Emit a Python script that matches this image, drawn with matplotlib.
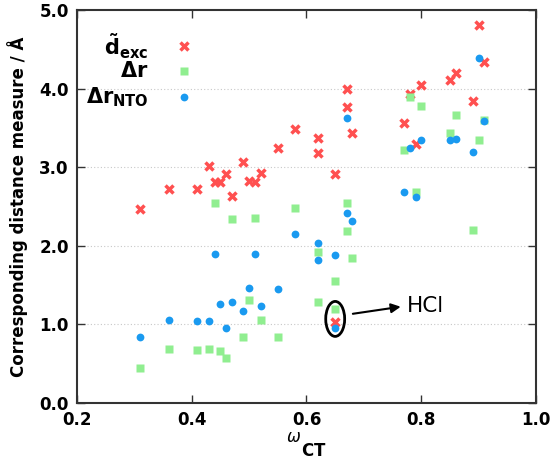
import numpy as np
import matplotlib
matplotlib.use("Agg")
import matplotlib.pyplot as plt
from matplotlib.patches import Ellipse

# omega_CT values shared by all three series
omega = [0.31, 0.36, 0.41, 0.43, 0.44, 0.45, 0.46, 0.47, 0.49, 0.50,
         0.51, 0.52, 0.55, 0.58, 0.62, 0.62, 0.65, 0.65, 0.67, 0.67,
         0.68, 0.77, 0.78, 0.79, 0.80, 0.85, 0.86, 0.89, 0.90, 0.91]
d_exc = [2.47, 2.72, 2.72, 3.02, 2.81, 2.81, 2.91, 2.64, 3.06, 2.83,
         2.81, 2.93, 3.25, 3.49, 3.37, 3.18, 2.91, 1.03, 3.99, 3.76,
         3.44, 3.56, 3.93, 3.30, 4.04, 4.11, 4.20, 3.84, 4.81, 4.34]
delta_r = [0.44, 0.69, 0.68, 0.69, 2.54, 0.66, 0.57, 2.34, 0.84, 1.31,
           2.35, 1.05, 0.84, 2.48, 1.92, 1.28, 1.55, 1.19, 2.54, 2.19,
           1.84, 3.22, 3.89, 2.69, 3.78, 3.43, 3.66, 2.20, 3.34, 3.60]
delta_r_nto = [0.84, 1.05, 1.04, 1.04, 1.90, 1.26, 0.96, 1.28, 1.17, 1.46,
               1.90, 1.23, 1.45, 2.15, 2.04, 1.82, 1.88, 0.95, 3.63, 2.42,
               2.32, 2.68, 3.25, 2.62, 3.35, 3.35, 3.36, 3.19, 4.39, 3.59]

red = "#ff5050"
green = "#90ee90"
blue = "#1a9af0"

x_style = dict(marker="x", color=red, ms=6, mew=2.5, ls="none")
sq_style = dict(marker="s", color=green, ms=5.6, mec="none", ls="none")
dot_style = dict(marker="o", color=blue, ms=5.6, mec="none", ls="none")

fig = plt.figure(figsize=(5.55, 4.65), dpi=100)
ax = fig.add_axes([0.1387, 0.1333, 0.8271, 0.8452])

ax.plot(omega, d_exc, **x_style)
ax.plot(omega, delta_r, **sq_style)
ax.plot(omega, delta_r_nto, **dot_style)

ax.set_xlim(0.2, 1.0)
ax.set_ylim(0.0, 5.0)
ax.set_xticks(np.arange(0.2, 1.01, 0.2))
ax.set_yticks(np.arange(0.0, 5.01, 1.0))
ax.set_xticklabels(["0.2", "0.4", "0.6", "0.8", "1.0"])
ax.set_yticklabels(["0.0", "1.0", "2.0", "3.0", "4.0", "5.0"])
for lab in ax.get_xticklabels() + ax.get_yticklabels():
    lab.set_fontweight("bold")
    lab.set_fontsize(12)
ax.tick_params(direction="in", top=True, right=True, length=6, width=1, color="#333333", pad=6)

for y in [1, 2, 3, 4]:
    ax.axhline(y, color="#c8c8c8", lw=0.8, ls=(0, (1, 2)), zorder=0)

for s in ax.spines.values():
    s.set_linewidth(1.5)
    s.set_color("#333333")

ax.set_ylabel("Corresponding distance measure / Å", fontsize=12, fontweight="bold", labelpad=8)
ax.set_xlabel(r"$^{\omega}\mathbf{_{CT}}$", fontsize=17, labelpad=2)

# legend drawn by hand, labels right aligned
tr = ax.transAxes
ax.text(0.155, 0.908, r"$\mathbf{\tilde{d}_{exc}}$", transform=tr, ha="right", va="center", fontsize=15)
ax.text(0.155, 0.844, r"$\mathbf{\Delta r}$", transform=tr, ha="right", va="center", fontsize=15)
ax.text(0.155, 0.778, r"$\mathbf{\Delta r_{NTO}}$", transform=tr, ha="right", va="center", fontsize=15)
ax.plot([0.233], [0.908], transform=tr, **x_style)
ax.plot([0.233], [0.844], transform=tr, **sq_style)
ax.plot([0.233], [0.778], transform=tr, **dot_style)

# HCl highlight
ax.add_patch(Ellipse((0.65, 1.07), 0.033, 0.445, fill=False, ec="black", lw=2))
ax.annotate("", xy=(0.769, 1.23), xytext=(0.676, 1.13),
            arrowprops=dict(arrowstyle="-|>", color="black", lw=1.5, mutation_scale=14))
ax.text(0.775, 1.23, "HCl", fontsize=15.5, va="center", ha="left")

fig.savefig("out.png", dpi=100)
